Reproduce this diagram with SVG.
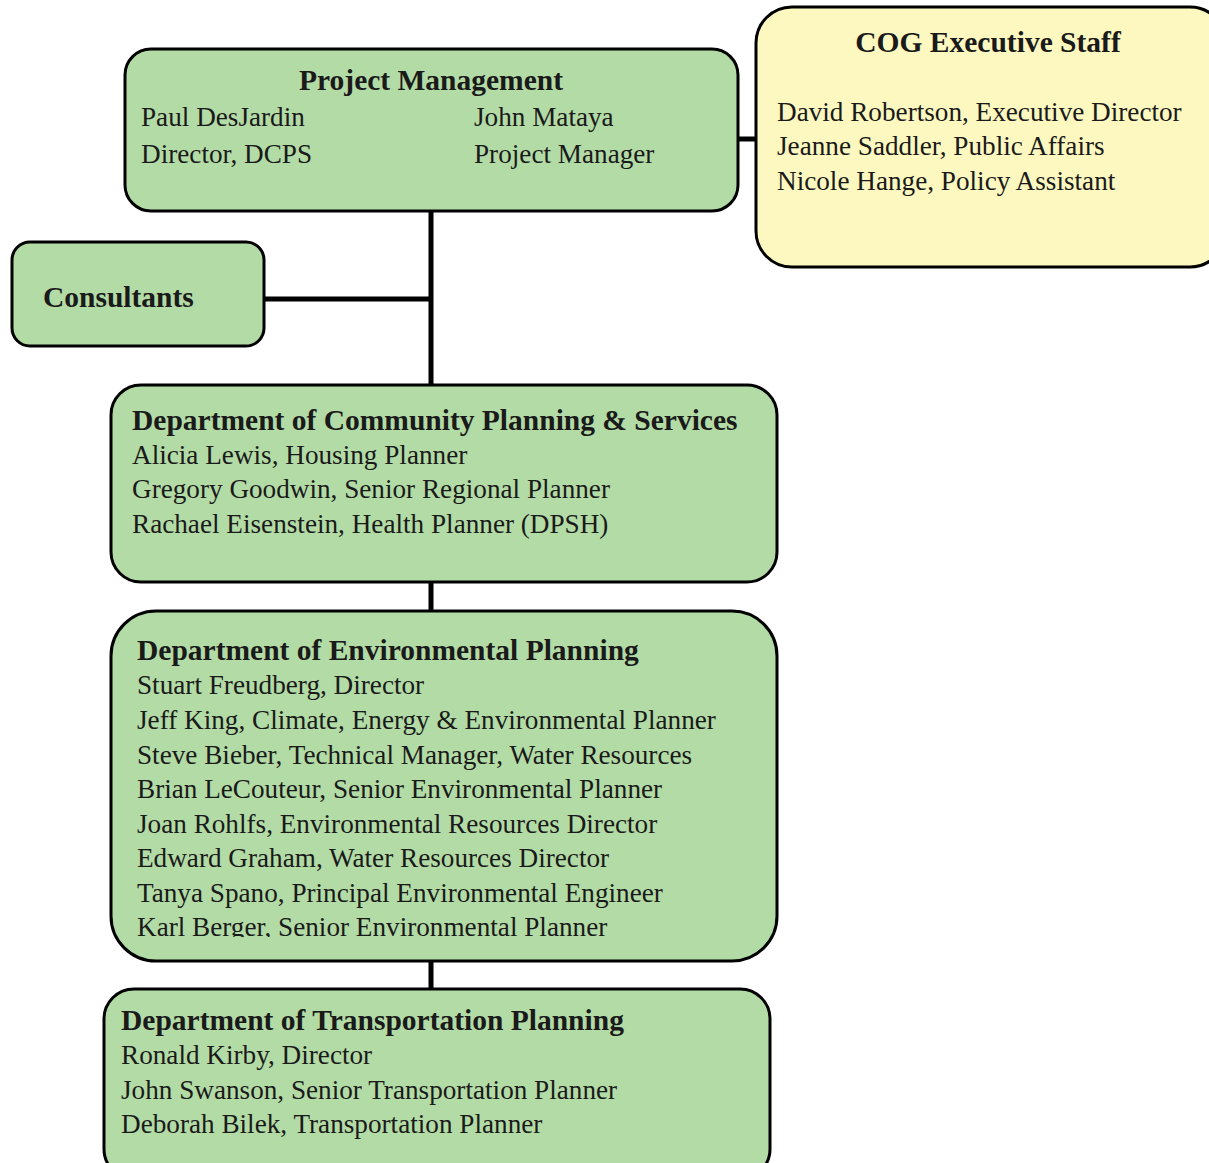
<svg xmlns="http://www.w3.org/2000/svg" width="1209" height="1163" viewBox="0 0 1209 1163">
<style>
.g{fill:#b3dba6;stroke:#000;stroke-width:3}
.y{fill:#fcf8c0;stroke:#000;stroke-width:3}
text{font-family:"Liberation Serif","Times New Roman",serif;font-size:27.2px;fill:#1a1a1a}
.b{font-weight:bold;font-size:29.5px}
.c{stroke:#000;stroke-width:5;fill:none}
</style>
<defs>
<clipPath id="depclip"><rect x="100" y="600" width="700" height="337"/></clipPath>
</defs>
<rect width="1209" height="1163" fill="#fff"/>
<g id="connectors">
<line class="c" x1="431" y1="211" x2="431" y2="385"/>
<line class="c" x1="264" y1="299" x2="431" y2="299"/>
<line class="c" x1="738" y1="139" x2="757" y2="139"/>
<line class="c" x1="431" y1="582" x2="431" y2="611"/>
<line class="c" x1="431" y1="961" x2="431" y2="989"/>
</g>
<g id="project-management">
<rect class="g" x="125" y="49" width="613" height="162" rx="26"/>
<text class="b" x="431" y="90" text-anchor="middle">Project Management</text>
<text x="141" y="126">Paul DesJardin</text>
<text x="141" y="163">Director, DCPS</text>
<text x="474" y="126">John Mataya</text>
<text x="474" y="163">Project Manager</text>
</g>
<g id="cog-executive-staff">
<rect class="y" x="756" y="7" width="470" height="260" rx="36"/>
<text class="b" x="988" y="52" text-anchor="middle">COG Executive Staff</text>
<text x="777" y="121">David Robertson, Executive Director</text>
<text x="777" y="155">Jeanne Saddler, Public Affairs</text>
<text x="777" y="190">Nicole Hange, Policy Assistant</text>
</g>
<g id="consultants">
<rect class="g" x="12" y="242" width="252" height="104" rx="18"/>
<text class="b" x="43" y="307">Consultants</text>
</g>
<g id="dcps">
<rect class="g" x="111" y="385" width="666" height="197" rx="30"/>
<text class="b" x="132" y="430">Department of Community Planning &amp; Services</text>
<text x="132" y="464">Alicia Lewis, Housing Planner</text>
<text x="132" y="498">Gregory Goodwin, Senior Regional Planner</text>
<text x="132" y="533">Rachael Eisenstein, Health Planner (DPSH)</text>
</g>
<g id="dep">
<rect class="g" x="111" y="611" width="666" height="350" rx="45"/>
<text class="b" x="137" y="660">Department of Environmental Planning</text>
<g clip-path="url(#depclip)">
<text x="137" y="694">Stuart Freudberg, Director</text>
<text x="137" y="729">Jeff King, Climate, Energy &amp; Environmental Planner</text>
<text x="137" y="764">Steve Bieber, Technical Manager, Water Resources</text>
<text x="137" y="798">Brian LeCouteur, Senior Environmental Planner</text>
<text x="137" y="833">Joan Rohlfs, Environmental Resources Director</text>
<text x="137" y="867">Edward Graham, Water Resources Director</text>
<text x="137" y="902">Tanya Spano, Principal Environmental Engineer</text>
<text x="137" y="936">Karl Berger, Senior Environmental Planner</text>
</g>
</g>
<g id="dtp">
<rect class="g" x="104" y="989" width="666" height="190" rx="30"/>
<text class="b" x="121" y="1030">Department of Transportation Planning</text>
<text x="121" y="1064">Ronald Kirby, Director</text>
<text x="121" y="1099">John Swanson, Senior Transportation Planner</text>
<text x="121" y="1133">Deborah Bilek, Transportation Planner</text>
</g>
</svg>
